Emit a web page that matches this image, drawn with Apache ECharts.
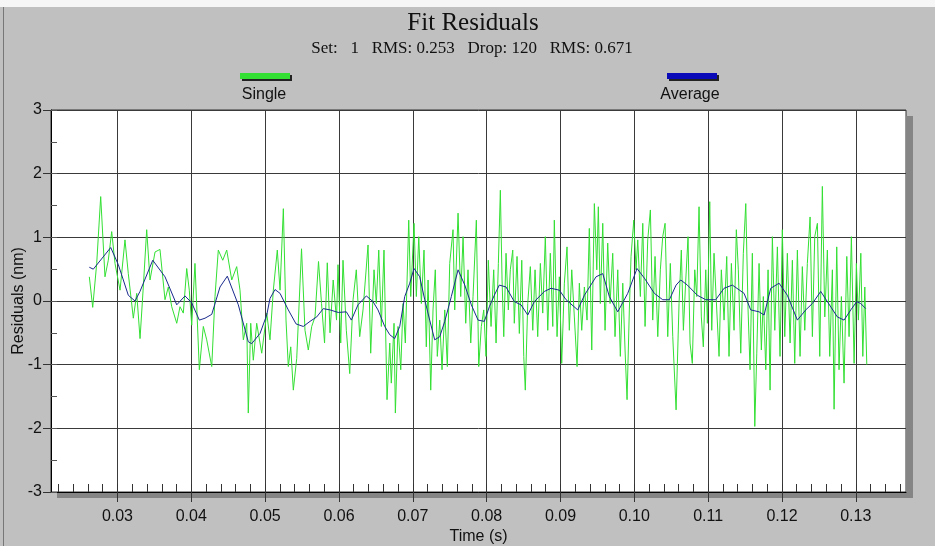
<!DOCTYPE html>
<html><head><meta charset="utf-8">
<script src="https://cdn.jsdelivr.net/npm/echarts/dist/echarts.min.js"></script>
<style>html,body{margin:0;padding:0;background:#c0c0c0}#c{width:935px;height:546px}</style>
</head><body><div id="c"></div><script>
const titleText = 'Fit Residuals';
const subtitleText = 'Set:   1   RMS: 0.253   Drop: 120   RMS: 0.671';
const seriesNames = ['Single', 'Average'];
const xAxisName = 'Time (s)';
const yAxisName = 'Residuals (nm)';
const xMin = 0.021, xMax = 0.1368;
const xMajorTicks = [0.03, 0.04, 0.05, 0.06, 0.07, 0.08, 0.09, 0.10, 0.11, 0.12, 0.13];
const xMinorStep = 0.002;
const yMin = -3, yMax = 3, yStep = 1, yMinorStep = 0.5;

// Single (green) trace vertices [time s, residual nm]
const singlePoints = [
[0.02619,0.38],[0.02665,-0.10],[0.02719,0.59],[0.02773,1.64],[0.02831,0.38],[0.02876,0.64],[0.02922,1.09],[0.02967,0.59],
[0.03035,0.17],[0.03102,0.96],[0.03147,0.43],[0.03215,-0.27],[0.03261,0.12],[0.03306,-0.59],[0.03350,0.22],[0.03396,1.12],
[0.03441,0.33],[0.03509,0.77],[0.03576,0.81],[0.03644,0.02],[0.03689,0.22],[0.03735,-0.09],[0.03803,-0.35],[0.03847,-0.09],
[0.03892,-0.19],[0.03938,0.51],[0.03973,0.17],[0.04006,-0.38],[0.04050,0.59],[0.04109,-1.08],[0.04163,-0.40],[0.04209,-0.61],
[0.04277,-1.03],[0.04321,0.07],[0.04366,0.80],[0.04426,0.64],[0.04480,0.80],[0.04548,0.33],[0.04615,0.54],[0.04660,0.17],
[0.04705,-0.61],[0.04751,-0.35],[0.04772,-1.76],[0.04805,-0.35],[0.04840,-0.93],[0.04886,-0.35],[0.04954,-0.82],[0.05022,-0.19],
[0.05066,-0.61],[0.05111,0.17],[0.05165,0.80],[0.05202,0.17],[0.05247,1.45],[0.05283,-0.30],[0.05314,-1.03],[0.05347,-0.72],
[0.05382,-1.40],[0.05428,-0.90],[0.05493,0.82],[0.05540,-0.46],[0.05585,-0.77],[0.05631,-0.40],[0.05676,-0.25],[0.05723,0.62],
[0.05764,-0.04],[0.05805,-0.66],[0.05842,0.60],[0.05879,-0.50],[0.05922,0.33],[0.05967,-0.30],[0.05987,0.57],[0.06024,-0.66],
[0.06055,0.64],[0.06100,-0.46],[0.06146,-1.14],[0.06191,0.02],[0.06235,0.49],[0.06281,-0.56],[0.06326,-0.14],[0.06394,0.88],
[0.06430,-0.82],[0.06475,0.49],[0.06506,-0.04],[0.06539,0.80],[0.06574,-0.40],[0.06610,0.80],[0.06651,-1.55],[0.06688,-0.66],
[0.06709,-1.29],[0.06746,-0.35],[0.06764,-1.76],[0.06800,-0.40],[0.06837,-1.08],[0.06868,-0.04],[0.06899,-0.66],[0.06945,1.27],
[0.06972,0.07],[0.07017,1.22],[0.07048,0.07],[0.07081,1.01],[0.07116,-0.04],[0.07152,0.80],[0.07183,-0.72],[0.07207,0.33],
[0.07243,-1.40],[0.07274,-0.14],[0.07305,0.49],[0.07332,-0.87],[0.07365,-0.30],[0.07396,-1.08],[0.07433,-0.14],[0.07468,-1.03],
[0.07500,0.59],[0.07545,1.12],[0.07568,-0.14],[0.07613,1.38],[0.07649,0.07],[0.07681,1.01],[0.07717,-0.35],[0.07748,0.49],
[0.07785,-0.66],[0.07816,0.07],[0.07861,1.27],[0.07893,-1.03],[0.07928,-0.40],[0.07961,-0.14],[0.07992,-0.87],[0.08023,0.64],
[0.08060,-0.40],[0.08096,0.49],[0.08128,-0.66],[0.08159,0.59],[0.08186,1.74],[0.08209,0.33],[0.08232,-0.56],[0.08263,0.75],
[0.08294,-0.14],[0.08321,0.49],[0.08354,0.80],[0.08375,-0.35],[0.08412,0.70],[0.08443,-0.51],[0.08476,0.64],[0.08503,-0.87],
[0.08524,-1.40],[0.08557,-0.04],[0.08592,0.54],[0.08625,-0.46],[0.08656,0.49],[0.08692,-0.56],[0.08728,0.59],[0.08760,-0.19],
[0.08795,1.01],[0.08828,-0.46],[0.08863,0.75],[0.08896,-0.40],[0.08917,1.27],[0.08954,-0.56],[0.08985,0.38],[0.09017,-0.98],
[0.09053,0.28],[0.09089,0.85],[0.09120,-0.46],[0.09153,0.49],[0.09188,-0.25],[0.09225,-1.03],[0.09256,0.28],[0.09288,-0.46],
[0.09324,0.22],[0.09360,-0.30],[0.09391,1.14],[0.09424,-0.77],[0.09459,1.53],[0.09492,0.49],[0.09513,1.48],[0.09540,-0.04],
[0.09573,1.22],[0.09604,-0.46],[0.09640,0.91],[0.09672,-0.04],[0.09708,0.75],[0.09739,-0.56],[0.09776,0.49],[0.09811,-0.87],
[0.09844,0.28],[0.09875,-0.77],[0.09902,-1.55],[0.09933,-0.14],[0.09956,0.70],[0.09993,1.27],[0.10024,0.49],[0.10047,0.96],
[0.10082,0.07],[0.10115,1.22],[0.10146,-0.40],[0.10182,0.96],[0.10218,1.43],[0.10250,-0.30],[0.10281,0.70],[0.10318,-0.56],
[0.10353,0.49],[0.10385,1.01],[0.10417,1.22],[0.10453,-0.56],[0.10488,0.59],[0.10521,-0.56],[0.10566,-1.71],[0.10606,-0.04],
[0.10637,0.80],[0.10665,-0.46],[0.10697,0.33],[0.10728,1.01],[0.10755,-0.66],[0.10786,-0.98],[0.10819,0.49],[0.10846,0.07],
[0.10877,1.48],[0.10908,-0.25],[0.10935,-0.72],[0.10968,0.49],[0.10990,-0.35],[0.11022,1.56],[0.11049,-0.46],[0.11080,0.75],
[0.11117,-0.14],[0.11148,-0.87],[0.11179,0.49],[0.11216,-0.30],[0.11252,0.70],[0.11283,-0.87],[0.11315,0.59],[0.11351,-0.46],
[0.11382,1.12],[0.11409,0.49],[0.11442,-0.82],[0.11477,0.75],[0.11510,1.53],[0.11541,-0.14],[0.11568,-1.08],[0.11599,0.75],
[0.11632,-1.97],[0.11659,-0.82],[0.11690,0.59],[0.11721,-0.77],[0.11748,0.07],[0.11781,-1.08],[0.11812,0.49],[0.11839,-1.40],
[0.11870,1.01],[0.11903,-0.46],[0.11938,0.85],[0.11974,-0.87],[0.12005,1.12],[0.12038,-0.56],[0.12073,0.75],[0.12110,-0.66],
[0.12141,0.64],[0.12173,-0.98],[0.12209,0.80],[0.12245,-0.87],[0.12276,0.54],[0.12309,-0.46],[0.12344,0.59],[0.12381,1.32],
[0.12412,-0.56],[0.12444,1.01],[0.12480,1.22],[0.12512,-0.87],[0.12547,1.80],[0.12580,-0.25],[0.12615,0.80],[0.12647,-0.87],
[0.12683,0.49],[0.12706,-1.70],[0.12742,0.85],[0.12773,-1.08],[0.12805,0.07],[0.12841,-1.29],[0.12878,0.70],[0.12909,-0.56],
[0.12940,1.01],[0.12977,-0.98],[0.13008,0.59],[0.13035,-0.30],[0.13068,0.75],[0.13095,-0.87],[0.13122,0.22],[0.13149,-1.00]
];

// Average (blue) trace vertices [time s, residual nm]
const averagePoints = [
[0.02619,0.53],[0.02673,0.50],[0.02909,0.84],[0.03012,0.57],[0.03147,0.09],[0.03238,0.00],[0.03305,0.15],[0.03478,0.64],
[0.03644,0.38],[0.03803,-0.06],[0.03915,0.08],[0.04006,-0.03],[0.04109,-0.30],[0.04186,-0.27],[0.04277,-0.21],[0.04389,0.22],
[0.04488,0.39],[0.04637,-0.06],[0.04772,-0.64],[0.04818,-0.67],[0.04931,-0.51],[0.05022,-0.22],[0.05066,0.04],[0.05134,0.18],
[0.05202,0.12],[0.05314,-0.14],[0.05419,-0.36],[0.05517,-0.40],[0.05608,-0.32],[0.05699,-0.25],[0.05788,-0.12],[0.05879,-0.14],
[0.05991,-0.18],[0.06100,-0.17],[0.06168,-0.30],[0.06258,-0.06],[0.06371,0.08],[0.06461,-0.01],[0.06529,-0.14],[0.06620,-0.40],
[0.06688,-0.53],[0.06755,-0.59],[0.06823,-0.40],[0.06891,0.07],[0.06959,0.28],[0.07017,0.51],[0.07094,0.38],[0.07162,0.02],
[0.07229,-0.30],[0.07297,-0.61],[0.07365,-0.56],[0.07433,-0.32],[0.07522,0.07],[0.07613,0.49],[0.07704,0.25],[0.07793,-0.06],
[0.07884,-0.30],[0.07969,-0.32],[0.08037,-0.09],[0.08104,0.09],[0.08172,0.25],[0.08263,0.22],[0.08375,-0.01],[0.08466,-0.06],
[0.08557,-0.22],[0.08646,-0.01],[0.08782,0.15],[0.08872,0.20],[0.08985,0.17],[0.09076,0.02],[0.09234,-0.14],[0.09324,0.09],
[0.09482,0.38],[0.09573,0.43],[0.09662,0.07],[0.09776,-0.17],[0.09911,0.12],[0.10037,0.51],[0.10136,0.36],[0.10272,0.12],
[0.10385,0.02],[0.10475,0.02],[0.10566,0.25],[0.10629,0.33],[0.10719,0.25],[0.10854,0.09],[0.10968,0.02],[0.11103,0.02],
[0.11216,0.20],[0.11328,0.25],[0.11487,0.12],[0.11577,-0.14],[0.11690,-0.17],[0.11758,-0.22],[0.11848,0.20],[0.11961,0.28],
[0.12073,0.09],[0.12209,-0.30],[0.12322,-0.14],[0.12412,-0.04],[0.12525,0.15],[0.12615,-0.01],[0.12750,-0.25],[0.12841,-0.30],
[0.12932,-0.14],[0.13013,-0.01],[0.13067,-0.04],[0.13135,-0.12]
];

const xMinorTicks = [];
for (let v = 0.022; v < xMax; v += xMinorStep) xMinorTicks.push(Math.round(v * 1000) / 1000);

const GL = 51, GR = 906, GT = 110, GB = 492;
const FONT_SANS = 'Liberation Sans, Arial, sans-serif';
const FONT_SERIF = 'Liberation Serif, Times New Roman, serif';
const GREEN = '#33e033', BLUE = '#1a2a8c';

function txt(text, x, y, font, align) {
  return { type: 'text', silent: true, style: { text, x, y, font, fill: '#111',
    align: align || 'center', verticalAlign: 'middle', textAlign: align || 'center', textVerticalAlign: 'middle' } };
}

const chart = echarts.init(document.getElementById('c'), null, { renderer: 'canvas' });
chart.setOption({
  animation: false,
  backgroundColor: '#c0c0c0',
  graphic: [
    { type: 'rect', silent: true, shape: { x: 0, y: 0, width: 935, height: 7 }, style: { fill: '#f6f6f6' } },
    { type: 'rect', silent: true, shape: { x: 3, y: 7, width: 1, height: 539 }, style: { fill: '#777' } },
    { type: 'rect', silent: true, shape: { x: GL + 6, y: GB, width: GR - GL + 1, height: 6 }, style: { fill: '#858585' } },
    { type: 'rect', silent: true, shape: { x: GR, y: GT + 6, width: 7, height: GB - GT }, style: { fill: '#858585' } },
    txt(titleText, 473, 23, '25px ' + FONT_SERIF),
    txt(subtitleText, 472, 49, '17px ' + FONT_SERIF),
    { type: 'rect', silent: true, shape: { x: 242, y: 75, width: 50, height: 6 }, style: { fill: '#222' } },
    { type: 'rect', silent: true, shape: { x: 240, y: 73, width: 50, height: 6 }, style: { fill: GREEN } },
    txt(seriesNames[0], 264, 95, '16px ' + FONT_SANS),
    { type: 'rect', silent: true, shape: { x: 669, y: 75, width: 50, height: 6 }, style: { fill: '#222' } },
    { type: 'rect', silent: true, shape: { x: 667, y: 73, width: 50, height: 6 }, style: { fill: '#0a0ab8' } },
    txt(seriesNames[1], 690, 95, '16px ' + FONT_SANS)
  ],
  grid: { left: GL, right: 935 - GR, top: GT, bottom: 546 - GB, show: true, containLabel: false,
    outerBoundsMode: 'none',
    backgroundColor: '#ffffff', borderColor: '#333', borderWidth: 1 },
  xAxis: [
    { type: 'value', min: xMin, max: xMax, position: 'bottom',
      name: xAxisName, nameLocation: 'middle', nameGap: 37, nameMoveOverlap: false,
      nameTextStyle: { fontFamily: FONT_SANS, fontSize: 16, color: '#111' },
      axisLine: { show: true, onZero: false, lineStyle: { color: '#000', width: 1 } },
      axisTick: { show: true, customValues: xMajorTicks, inside: false, length: 10, lineStyle: { color: '#333' } },
      axisLabel: { customValues: xMajorTicks, formatter: v => v.toFixed(2), fontFamily: FONT_SANS, fontSize: 16, color: '#111', margin: 17 },
      splitLine: { show: true, lineStyle: { color: '#3a3a3a', width: 1 } } },
    { type: 'value', min: xMin, max: xMax, position: 'bottom', gridIndex: 0,
      axisLine: { show: false, onZero: false }, axisLabel: { show: false }, splitLine: { show: false },
      axisTick: { show: true, customValues: xMinorTicks, inside: true, length: 8, lineStyle: { color: '#333' } } }
  ],
  yAxis: [
    { type: 'value', min: yMin, max: yMax, interval: yStep, position: 'left',
      name: yAxisName, nameLocation: 'middle', nameGap: 24, nameRotate: 90, nameMoveOverlap: false,
      nameTextStyle: { fontFamily: FONT_SANS, fontSize: 16, color: '#111' },
      axisLine: { show: true, onZero: false, lineStyle: { color: '#000', width: 1 } },
      axisTick: { show: true, inside: false, length: 8, lineStyle: { color: '#333' } },
      axisLabel: { fontFamily: FONT_SANS, fontSize: 16, color: '#111', margin: 9 },
      splitLine: { show: true, lineStyle: { color: '#3a3a3a', width: 1 } } },
    { type: 'value', min: yMin, max: yMax, interval: yMinorStep, position: 'left', gridIndex: 0,
      axisLine: { show: false, onZero: false }, axisLabel: { show: false }, splitLine: { show: false },
      axisTick: { show: true, inside: true, length: 6, lineStyle: { color: '#555' } } }
  ],
  series: [
    { name: seriesNames[0], type: 'line', xAxisIndex: 0, yAxisIndex: 0, data: singlePoints,
      showSymbol: false, symbol: 'none', lineStyle: { color: GREEN, width: 1 }, z: 3 },
    { name: seriesNames[1], type: 'line', xAxisIndex: 0, yAxisIndex: 0, data: averagePoints,
      showSymbol: false, symbol: 'none', lineStyle: { color: BLUE, width: 1 }, z: 4 }
  ]
});
</script></body></html>
